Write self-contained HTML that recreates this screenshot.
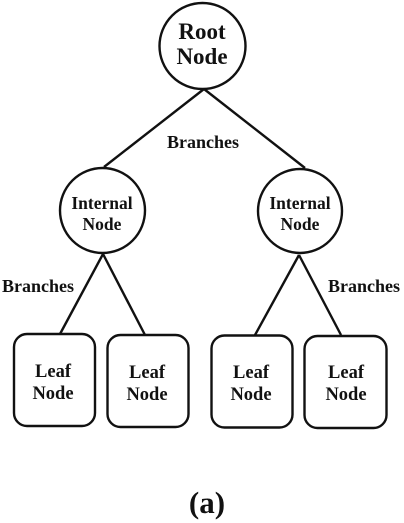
<!DOCTYPE html>
<html><head><style>
html,body{margin:0;padding:0;background:#fff;}
svg{display:block;}
text{font-family:"Liberation Serif",serif;font-weight:bold;fill:#111;text-anchor:middle;}
</style></head><body>
<svg width="404" height="523" viewBox="0 0 404 523">
<g stroke="#111" stroke-width="2.4" fill="none">
<line x1="204" y1="89" x2="104" y2="167"/>
<line x1="204" y1="89" x2="305" y2="168"/>
<line x1="103" y1="254" x2="60" y2="334"/>
<line x1="103" y1="254" x2="145" y2="335"/>
<line x1="299" y1="255" x2="255" y2="335"/>
<line x1="299" y1="255" x2="341" y2="335"/>
<circle cx="202.5" cy="46" r="43" fill="#fff"/>
<circle cx="102.5" cy="210.5" r="42.5" fill="#fff"/>
<circle cx="300" cy="211" r="42" fill="#fff"/>
<rect x="14" y="334" width="81" height="92" rx="13" fill="#fff"/>
<rect x="107.5" y="335" width="81" height="92" rx="13" fill="#fff"/>
<rect x="211.5" y="335.5" width="81" height="92" rx="13" fill="#fff"/>
<rect x="304.5" y="336" width="82" height="92" rx="13" fill="#fff"/>
</g>
<text x="202" y="39" font-size="23">Root</text>
<text x="202" y="64" font-size="23">Node</text>
<text x="203" y="148" font-size="18">Branches</text>
<text x="102" y="209" font-size="17.5">Internal</text>
<text x="102" y="230" font-size="17.5">Node</text>
<text x="300" y="209" font-size="17.5">Internal</text>
<text x="300" y="230" font-size="17.5">Node</text>
<text x="38" y="292" font-size="18">Branches</text>
<text x="364" y="292" font-size="18">Branches</text>
<text x="53" y="377" font-size="18.5">Leaf</text>
<text x="53" y="399" font-size="18.5">Node</text>
<text x="147" y="378" font-size="18.5">Leaf</text>
<text x="147" y="400" font-size="18.5">Node</text>
<text x="251" y="378" font-size="18.5">Leaf</text>
<text x="251" y="400" font-size="18.5">Node</text>
<text x="346" y="378" font-size="18.5">Leaf</text>
<text x="346" y="400" font-size="18.5">Node</text>
<text x="207" y="513" font-size="31">(a)</text>
</svg>
</body></html>
